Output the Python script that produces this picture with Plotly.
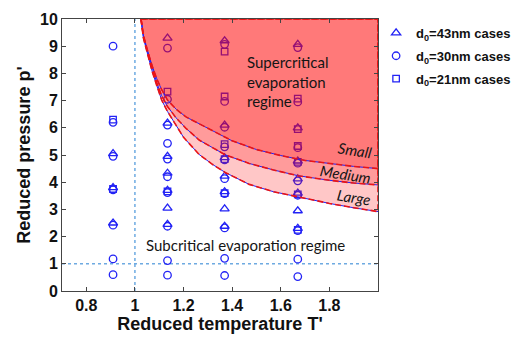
import plotly.graph_objects as go

# Marker data: reduced temperature T' and reduced pressure p' for each droplet size
T_43 = [0.91, 0.91, 0.91,
        1.134, 1.134, 1.134, 1.134, 1.134, 1.134, 1.134,
        1.369, 1.369, 1.369, 1.369, 1.369, 1.369, 1.369,
        1.67, 1.67, 1.67, 1.67, 1.67, 1.67, 1.67]
P_43 = [5.05, 3.8, 2.5,
        9.3, 6.17, 4.95, 4.33, 3.7, 3.05, 2.45,
        9.2, 6.1, 4.9, 4.22, 3.65, 3.02, 2.38,
        9.07, 6.0, 4.78, 4.12, 3.6, 2.95, 2.3]

T_30 = [0.91, 0.91, 0.91, 0.91, 0.91, 0.91, 0.91,
        1.134, 1.134, 1.134, 1.134, 1.134, 1.134, 1.134, 1.134, 1.134, 1.134,
        1.369, 1.369, 1.369, 1.369, 1.369, 1.369, 1.369, 1.369, 1.369, 1.369,
        1.67, 1.67, 1.67, 1.67, 1.67, 1.67, 1.67, 1.67, 1.67]
P_30 = [9.0, 6.2, 4.95, 3.72, 2.42, 1.18, 0.6,
        8.93, 7.05, 6.1, 5.43, 4.85, 4.2, 3.62, 2.38, 1.12, 0.58,
        9.07, 6.97, 6.02, 5.3, 4.82, 4.13, 3.58, 2.32, 1.2, 0.57,
        8.95, 6.95, 5.27, 4.7, 4.05, 3.52, 2.22, 1.17, 0.53]

T_21 = [0.91, 0.91,
        1.134, 1.134,
        1.369, 1.369, 1.369, 1.369, 1.369,
        1.67, 1.67, 1.67, 1.67, 1.67, 1.67]
P_21 = [6.3, 3.75,
        7.33, 3.66,
        8.8, 7.15, 5.4, 4.85, 3.6,
        7.07, 5.95, 5.33, 4.75, 3.55, 2.25]

# Supercritical boundaries for small, medium and large droplets
T_small = [1.025, 1.035, 1.05, 1.07, 1.09, 1.11, 1.134, 1.17, 1.21, 1.27, 1.33,
           1.40, 1.50, 1.60, 1.70, 1.80, 1.90, 2.0]
P_small = [10.0, 9.4, 8.9, 8.3, 7.8, 7.4, 7.02, 6.68, 6.4, 6.12, 5.82,
           5.52, 5.2, 4.98, 4.8, 4.68, 4.58, 4.5]

T_medium = [1.025, 1.035, 1.05, 1.07, 1.09, 1.11, 1.134, 1.17, 1.21, 1.264, 1.33,
            1.373, 1.47, 1.57, 1.67, 1.80, 1.90, 2.0]
P_medium = [10.0, 9.35, 8.85, 8.2, 7.65, 7.18, 6.78, 6.36, 5.98, 5.55, 5.2,
            5.0, 4.69, 4.45, 4.24, 4.07, 3.97, 3.9]

T_large = [1.025, 1.035, 1.05, 1.07, 1.09, 1.11, 1.134, 1.154, 1.20, 1.264, 1.32,
           1.373, 1.47, 1.57, 1.67, 1.80, 1.90, 2.0]
P_large = [10.0, 9.3, 8.78, 8.1, 7.55, 7.02, 6.6, 6.3, 5.65, 5.02, 4.65,
           4.35, 3.92, 3.65, 3.46, 3.22, 3.06, 2.92]

x_ticks = [0.8, 1.0, 1.2, 1.4, 1.6, 1.8]
x_ticktext = ["0.8", "1", "1.2", "1.4", "1.6", "1.8"]
y_ticks = list(range(0, 11))
y_ticktext = [str(v) for v in y_ticks]

T_MAX = 2.0
P_MAX = 10.0

BLUE = "rgb(35,35,245)"
RED = "rgb(235,20,20)"
AXIS_FONT = "Liberation Sans, Arial, sans-serif"
TEXT_FONT = "Lato, Carlito, sans-serif"

fig = go.Figure()

series = [
    ("d<sub>0</sub>=43nm cases", "triangle-up-open", 8, T_43, P_43),
    ("d<sub>0</sub>=30nm cases", "circle-open", 7.5, T_30, P_30),
    ("d<sub>0</sub>=21nm cases", "square-open", 6.5, T_21, P_21),
]
for i, (name, sym, size, tx, py) in enumerate(series):
    fig.add_trace(go.Scatter(
        x=tx, y=py, mode="markers", name=name, legendgroup="g%d" % i,
        marker=dict(symbol=sym, size=size, color=BLUE,
                    line=dict(width=1.3, color=BLUE)),
        hoverinfo="skip",
    ))

curves = [(T_large, P_large), (T_medium, P_medium), (T_small, P_small)]

# translucent regions above each boundary, stacked so they darken together
for tc, pc in curves:
    fig.add_trace(go.Scatter(
        x=tc + [T_MAX, tc[0]], y=pc + [P_MAX, P_MAX],
        mode="lines", fill="toself", fillcolor="rgba(255,0,0,0.22)",
        line=dict(width=0), showlegend=False, hoverinfo="skip",
    ))

# thin blue trace under each dashed boundary
for tc, pc in curves:
    fig.add_trace(go.Scatter(
        x=tc, y=pc, mode="lines", line=dict(color=BLUE, width=1),
        showlegend=False, hoverinfo="skip",
    ))

# dashed red outline of each region
for tc, pc in curves:
    fig.add_trace(go.Scatter(
        x=tc + [T_MAX, T_MAX, tc[0]], y=pc + [pc[-1], P_MAX, P_MAX],
        mode="lines", line=dict(color=RED, width=1.6, dash="6px,3px"),
        showlegend=False, hoverinfo="skip",
    ))

# critical point reference lines
fig.add_shape(type="line", xref="x", yref="y", x0=1.0, x1=1.0, y0=0, y1=P_MAX,
              line=dict(color="rgb(110,170,225)", width=1.5, dash="dot"), layer="below")
fig.add_shape(type="line", xref="x", yref="y", x0=0.7, x1=T_MAX, y0=1.0, y1=1.0,
              line=dict(color="rgb(110,170,225)", width=1.5, dash="dot"), layer="below")

fig.add_annotation(x=1.4525, y=7.69, xref="x", yref="y", xanchor="left", yanchor="middle",
                   align="left", showarrow=False,
                   text="Supercritical<br>evaporation<br>regime",
                   font=dict(family=TEXT_FONT, size=15, color="#151515"))
fig.add_annotation(x=1.453, y=1.69, xref="x", yref="y", xanchor="center", yanchor="middle",
                   showarrow=False, text="Subcritical evaporation regime",
                   font=dict(family=TEXT_FONT, size=15, color="#151515"))
for label, tx, py in [("Small", 1.906, 5.17), ("Medium", 1.865, 4.32), ("Large", 1.9, 3.47)]:
    fig.add_annotation(x=tx, y=py, xref="x", yref="y", showarrow=False,
                       text="<i>" + label + "</i>", textangle=9,
                       font=dict(family=TEXT_FONT, size=15, color="#151515"))

fig.update_layout(
    width=513, height=337,
    margin=dict(l=62, r=135, t=19, b=46, autoexpand=False),
    paper_bgcolor="white", plot_bgcolor="white",
    showlegend=True,
    legend=dict(x=0.994, y=1.004, xanchor="left", yanchor="top",
                bgcolor="rgba(0,0,0,0)", tracegroupgap=3,
                font=dict(family=AXIS_FONT, size=13, color="#111", weight="bold")),
    xaxis=dict(range=[0.7, T_MAX], tickvals=x_ticks, ticktext=x_ticktext,
               ticks="inside", ticklen=4, tickcolor="#444", showline=True,
               linecolor="#444", linewidth=1, mirror="ticks",
               showgrid=False, zeroline=False, automargin=False,
               tickfont=dict(family=AXIS_FONT, size=16, color="#111", weight="bold"),
               title=dict(text="Reduced temperature T'", standoff=4,
                          font=dict(family=AXIS_FONT, size=18, color="#111", weight="bold"))),
    yaxis=dict(range=[0, P_MAX], tickvals=y_ticks, ticktext=y_ticktext,
               ticks="inside", ticklen=4, tickcolor="#444", showline=True,
               linecolor="#444", linewidth=1, mirror="ticks",
               showgrid=False, zeroline=False, automargin=False,
               tickfont=dict(family=AXIS_FONT, size=16, color="#111", weight="bold"),
               title=dict(text="Reduced pressure p'", standoff=4,
                          font=dict(family=AXIS_FONT, size=18, color="#111", weight="bold"))),
)

fig.write_html("out.html")
